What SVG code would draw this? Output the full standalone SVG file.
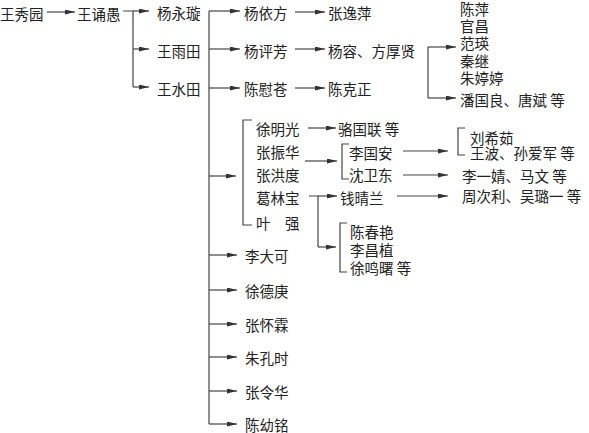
<svg xmlns="http://www.w3.org/2000/svg" width="589" height="433" viewBox="0 0 589 433">
<style>
text{font-family:"Noto Sans CJK SC","Noto Sans CJK JP",sans-serif;font-size:14.5px;fill:#222;dominant-baseline:central}
.c path,.c line,.c polyline{stroke:#444;stroke-width:1.2;fill:none}
.a{marker-end:url(#ah)}
</style>
<defs>
<marker id="ah" viewBox="0 0 10 5" refX="10" refY="2.5" markerWidth="10" markerHeight="5" markerUnits="userSpaceOnUse" orient="auto"><path d="M0,0 L10,2.5 L0,5 z" fill="#333"/></marker>
</defs>
<rect width="589" height="433" fill="#fff"/>
<g class="c" id="connectors">
<line class="a" x1="47" y1="12" x2="75" y2="12"/>
<polyline points="123,11 133,11 133,87"/>
<line class="a" x1="133" y1="11" x2="149" y2="11"/>
<line class="a" x1="133" y1="49" x2="149" y2="49"/>
<line class="a" x1="133" y1="87" x2="149" y2="87"/>
<polyline points="209,11 209,424"/>
<line class="a" x1="209" y1="11" x2="240" y2="11"/>
<line class="a" x1="209" y1="49" x2="240" y2="49"/>
<line class="a" x1="209" y1="88" x2="240" y2="88"/>
<line class="a" x1="295" y1="12" x2="325" y2="12"/>
<line class="a" x1="295" y1="49" x2="325" y2="49"/>
<line class="a" x1="295" y1="88" x2="325" y2="88"/>
<polyline points="428,47 428,98"/>
<line class="a" x1="428" y1="47" x2="456" y2="47"/>
<line class="a" x1="428" y1="98" x2="456" y2="98"/>
<line class="a" x1="209" y1="176" x2="236" y2="176"/>
<polyline points="252,120 243,120 243,225 252,225"/>
<line class="a" x1="308" y1="128" x2="336" y2="128"/>
<line class="a" x1="305" y1="161" x2="337" y2="161"/>
<polyline points="349,144 342,144 342,179 349,179"/>
<line class="a" x1="403" y1="151" x2="448" y2="151"/>
<line class="a" x1="403" y1="175" x2="448" y2="175"/>
<polyline points="465,128 458,128 458,155 465,155"/>
<polyline points="309,196 318,196 318,247"/>
<line class="a" x1="318" y1="196" x2="337" y2="196"/>
<line class="a" x1="318" y1="247" x2="336" y2="247"/>
<polyline points="347,223 340,223 340,272 347,272"/>
<line class="a" x1="397" y1="196" x2="448" y2="196"/>
<line class="a" x1="209" y1="255" x2="237" y2="255"/>
<line class="a" x1="209" y1="290" x2="237" y2="290"/>
<line class="a" x1="209" y1="324" x2="237" y2="324"/>
<line class="a" x1="209" y1="357" x2="237" y2="357"/>
<line class="a" x1="209" y1="391" x2="237" y2="391"/>
<line class="a" x1="209" y1="424" x2="237" y2="424"/>
</g>
<g id="n1"><text x="0" y="13">王秀园</text></g>
<g id="n2"><text x="77" y="13">王诵愚</text></g>
<g id="n3"><text x="157" y="12">杨永璇</text></g>
<g id="n4"><text x="157" y="50">王雨田</text></g>
<g id="n5"><text x="157" y="88">王水田</text></g>
<g id="n6"><text x="244" y="12">杨依方</text></g>
<g id="n7"><text x="244" y="50">杨评芳</text></g>
<g id="n8"><text x="244" y="88">陈慰苍</text></g>
<g id="n9"><text x="328" y="12">张逸萍</text></g>
<g id="n10"><text x="328" y="50">杨容、方厚贤</text></g>
<g id="n11"><text x="328" y="88">陈克正</text></g>
<g id="n12"><text x="460" y="8">陈萍</text><text x="460" y="25">官昌</text><text x="460" y="42">范瑛</text><text x="460" y="60">秦继</text><text x="460" y="77">朱婷婷</text></g>
<g id="n13"><text x="460" y="99">潘国良、唐斌 等</text></g>
<g id="n14"><text x="256" y="128">徐明光</text><text x="256" y="151">张振华</text><text x="256" y="174">张洪度</text><text x="256" y="197">葛林宝</text><text x="256" y="222">叶　强</text></g>
<g id="n15"><text x="338" y="128">骆国联 等</text></g>
<g id="n16"><text x="349" y="152">李国安</text><text x="349" y="174">沈卫东</text></g>
<g id="n17"><text x="470" y="137">刘希茹</text><text x="470" y="152">王波、孙爱军 等</text></g>
<g id="n18"><text x="462" y="175">李一婧、马文 等</text></g>
<g id="n19"><text x="340" y="197">钱晴兰</text></g>
<g id="n20"><text x="462" y="195">周次利、吴璐一 等</text></g>
<g id="n21"><text x="350" y="231">陈春艳</text><text x="350" y="249">李昌植</text><text x="350" y="267">徐鸣曙 等</text></g>
<g id="n22"><text x="245" y="255">李大可</text></g>
<g id="n23"><text x="245" y="290">徐德庚</text></g>
<g id="n24"><text x="245" y="324">张怀霖</text></g>
<g id="n25"><text x="245" y="357">朱孔时</text></g>
<g id="n26"><text x="245" y="391">张令华</text></g>
<g id="n27"><text x="245" y="424">陈幼铭</text></g>
</svg>
